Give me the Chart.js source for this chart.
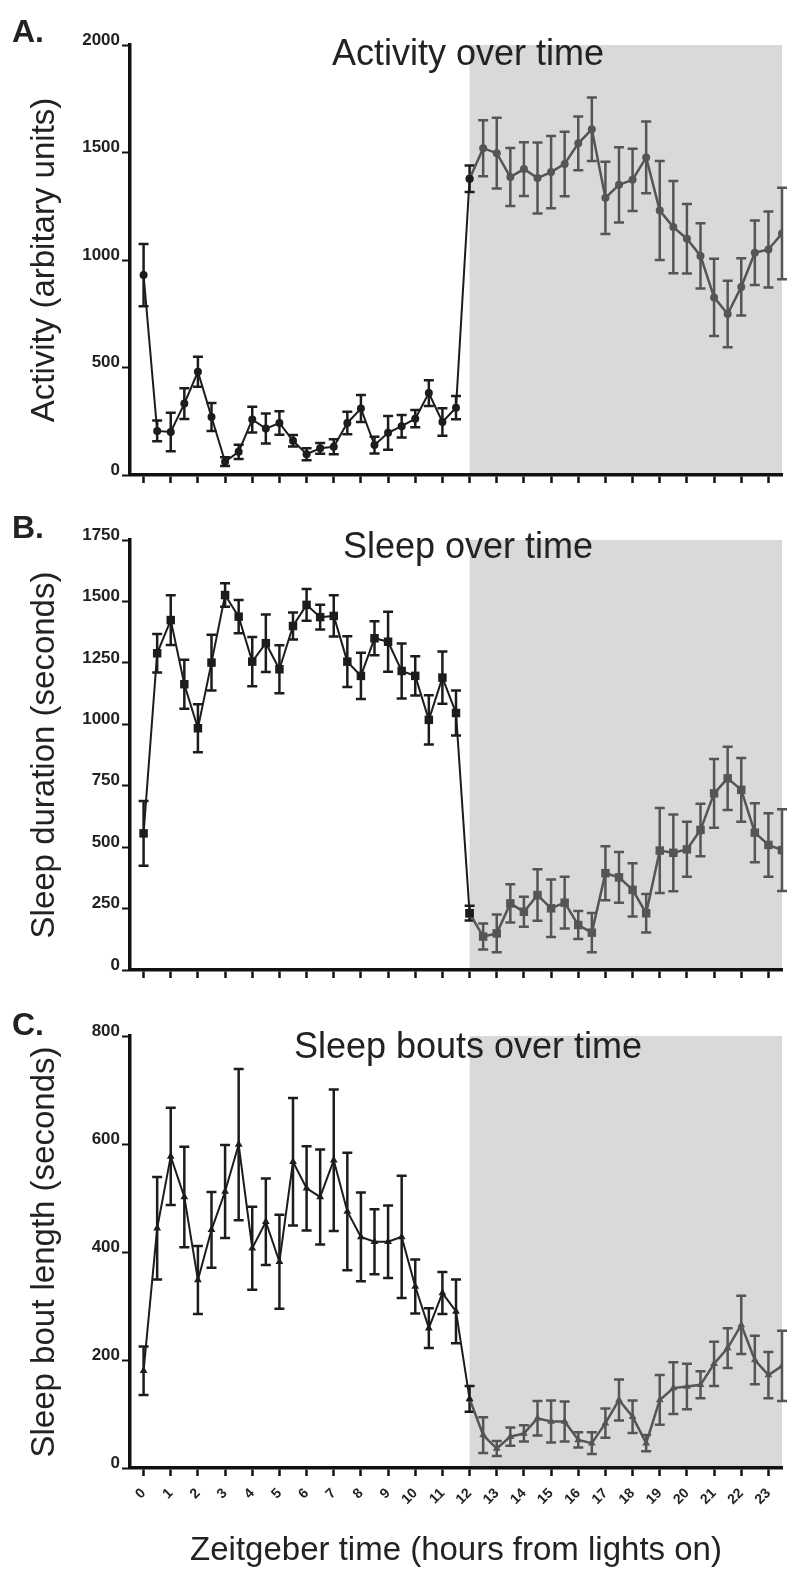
<!DOCTYPE html>
<html>
<head>
<meta charset="utf-8">
<script src="https://cdn.jsdelivr.net/npm/chart.js@4.4.1/dist/chart.umd.min.js"></script>
<style>
  body { margin: 0; background: #fff; }
  .panel { position: absolute; left: 0; width: 800px; }
</style>
</head>
<body>
<div class="panel" style="top:0;height:500px"><canvas id="chartA"></canvas></div>
<div class="panel" style="top:500px;height:495px"><canvas id="chartB"></canvas></div>
<div class="panel" style="top:995px;height:584px"><canvas id="chartC"></canvas></div>
<script>
// zeitgeber time of each sample (hours)
const hours = [0, 0.5, 1, 1.5, 2, 2.5, 3, 3.5, 4, 4.5, 5, 5.5, 6, 6.5, 7, 7.5, 8, 8.5, 9, 9.5, 10, 10.5, 11, 11.5,
               12, 12.5, 13, 13.5, 14, 14.5, 15, 15.5, 16, 16.5, 17, 17.5, 18, 18.5, 19, 19.5, 20, 20.5, 21, 21.5, 22, 22.5, 23, 23.5];
const hourTicks = [0, 1, 2, 3, 4, 5, 6, 7, 8, 9, 10, 11, 12, 13, 14, 15, 16, 17, 18, 19, 20, 21, 22, 23];
const lightsOff = 12;

const activity = [930, 205, 200, 332, 480, 270, 62, 108, 258, 216, 242, 159, 97, 124, 131, 242, 309, 139, 196, 227, 262, 381, 247, 313,
                  1378, 1520, 1497, 1386, 1423, 1381, 1409, 1447, 1543, 1608, 1289, 1350, 1373, 1477, 1230, 1153, 1099, 1019, 826, 749, 875, 1034, 1049, 1123];
const activityErr = [145, 48, 90, 72, 70, 65, 20, 33, 60, 70, 55, 27, 28, 25, 35, 52, 63, 39, 79, 52, 40, 60, 64, 54,
                     62, 130, 165, 135, 125, 165, 168, 150, 125, 148, 168, 175, 145, 167, 230, 215, 162, 152, 180, 155, 133, 150, 177, 213];

const sleep = [556, 1289, 1424, 1163, 984, 1251, 1526, 1438, 1255, 1330, 1224, 1400, 1486, 1436, 1441, 1255, 1197, 1350, 1336, 1217, 1197, 1018, 1190, 1046,
               231, 136, 149, 271, 237, 305, 251, 274, 183, 152, 394, 377, 326, 231, 486, 477, 491, 570, 719, 780, 733, 559, 509, 488];
const sleepErr = [132, 78, 101, 100, 98, 113, 48, 68, 100, 117, 98, 55, 65, 50, 84, 103, 94, 69, 122, 112, 80, 100, 106, 92,
                  30, 53, 77, 78, 61, 105, 117, 105, 57, 80, 110, 103, 108, 78, 173, 156, 112, 107, 140, 129, 130, 120, 129, 166];

const bouts = [180, 444, 577, 502, 348, 441, 512, 599, 407, 456, 382, 567, 518, 502, 570, 475, 428, 419, 419, 428, 336, 259, 324, 290,
               128, 61, 36, 58, 64, 92, 86, 86, 52, 46, 83, 126, 95, 46, 126, 148, 151, 154, 193, 222, 265, 200, 172, 189];
const boutsErr = [45, 95, 90, 93, 63, 70, 86, 140, 77, 80, 87, 118, 78, 88, 131, 109, 82, 60, 67, 113, 50, 37, 39, 59,
                  24, 33, 14, 17, 15, 32, 39, 37, 14, 20, 27, 38, 30, 15, 46, 48, 42, 25, 41, 37, 54, 45, 43, 65];

const DAY = '#1c1c1c';
const NIGHT = '#555555';
const FONT = "'Liberation Sans', Arial, sans-serif";

// data + error bars per canvas
const panelData = {
    chartA: { vals: activity, errs: activityErr },
    chartB: { vals: sleep, errs: sleepErr },
    chartC: { vals: bouts, errs: boutsErr }
};

const panelPlugin = {
    id: 'panelPlugin',
    beforeDraw(chart) {
        const { ctx, chartArea, scales } = chart;
        const x0 = scales.x.getPixelForValue(lightsOff);
        ctx.save();
        ctx.fillStyle = '#d9d9d9';
        ctx.fillRect(x0, chartArea.top, chartArea.right - x0, chartArea.bottom - chartArea.top - 1);
        ctx.restore();
    },
    beforeDatasetsDraw(chart) {
        const { ctx, scales } = chart;
        const d = panelData[chart.canvas.id];
        ctx.save();
        ctx.lineWidth = 2.5;
        hours.forEach((h, i) => {
            const x = scales.x.getPixelForValue(h);
            const yt = scales.y.getPixelForValue(d.vals[i] + d.errs[i]);
            const yb = scales.y.getPixelForValue(Math.max(d.vals[i] - d.errs[i], 0));
            ctx.strokeStyle = i <= 24 ? DAY : NIGHT;
            ctx.beginPath();
            ctx.moveTo(x, yt); ctx.lineTo(x, yb);
            ctx.moveTo(x - 5, yt); ctx.lineTo(x + 5, yt);
            ctx.moveTo(x - 5, yb); ctx.lineTo(x + 5, yb);
            ctx.stroke();
        });
        ctx.restore();
    },
    afterDraw(chart, args, opts) {
        const ctx = chart.ctx;
        ctx.save();
        ctx.textBaseline = 'alphabetic';
        ctx.fillStyle = '#222';
        ctx.font = 'bold 32px ' + FONT;
        ctx.textAlign = 'left';
        ctx.fillText(opts.letter, 12, opts.letterY);
        ctx.font = '36px ' + FONT;
        ctx.textAlign = 'center';
        ctx.fillText(opts.title, 468, opts.titleY);
        ctx.restore();
    }
};

function makeChart(id, vals, pointStyle, radius, yMax, yStep, yTitle, opts) {
    const pts = hours.map((h, i) => ({ x: h, y: vals[i] }));
    const showX = !!opts.xTitle;
    return new Chart(document.getElementById(id), {
        type: 'line',
        data: {
            datasets: [
                { data: pts.slice(0, 25), borderColor: DAY, backgroundColor: DAY, borderWidth: 2,
                  pointStyle: pointStyle, pointRadius: radius, pointBorderWidth: 0, tension: 0 },
                { data: pts.slice(24), borderColor: NIGHT, backgroundColor: NIGHT, borderWidth: 2.5,
                  pointStyle: pointStyle, pointRadius: radius, pointBorderWidth: 0, tension: 0 }
            ]
        },
        options: {
            responsive: true, maintainAspectRatio: false, animation: false,
            events: [],
            layout: { padding: { top: opts.padTop, right: 18, left: 0, bottom: 0 } },
            plugins: {
                legend: { display: false }, tooltip: { enabled: false },
                panelPlugin: { letter: opts.letter, letterY: opts.letterY, title: opts.title, titleY: opts.titleY }
            },
            scales: {
                x: {
                    type: 'linear', min: -0.5, max: 23.5,
                    afterBuildTicks: (axis) => { axis.ticks = hourTicks.map(v => ({ value: v })); },
                    afterFit: (scale) => { scale.height = opts.xHeight; },
                    border: { display: true, color: '#111', width: 3.5 },
                    grid: { drawOnChartArea: false, drawTicks: true, tickLength: 8, tickWidth: 2.5, tickColor: '#111' },
                    ticks: { display: showX, autoSkip: false, minRotation: 45, maxRotation: 45, padding: 9,
                             color: '#222', font: { family: FONT, size: 14, weight: 'bold' } },
                    title: { display: showX, text: opts.xTitle || '', color: '#222',
                             font: { family: FONT, size: 33 }, padding: { top: 0, bottom: 8 } }
                },
                y: {
                    min: 0, max: yMax,
                    afterBuildTicks: (axis) => { axis.ticks = axis.ticks.filter(t => t.value % yStep === 0); },
                    afterFit: (scale) => { scale.width = 130; },
                    border: { display: true, color: '#111', width: 3.5 },
                    grid: { drawOnChartArea: false, tickLength: 8, tickWidth: 2, tickColor: '#111' },
                    ticks: { stepSize: yStep, padding: 2, labelOffset: -5, color: '#222',
                             callback: (v) => String(v),
                             font: { family: FONT, size: 17, weight: 'bold' } },
                    title: { display: true, text: yTitle, color: '#222',
                             font: { family: FONT, size: 33 }, padding: { top: 25, bottom: 0 } }
                }
            }
        },
        plugins: [panelPlugin]
    });
}

makeChart('chartA', activity, 'circle', 4, 2000, 500, 'Activity (arbitary units)',
    { padTop: 45, xHeight: 25, letter: 'A.', letterY: 42, title: 'Activity over time', titleY: 65 });
makeChart('chartB', sleep, 'rect', 6, 1750, 250, 'Sleep duration (seconds)',
    { padTop: 40, xHeight: 25, letter: 'B.', letterY: 38, title: 'Sleep over time', titleY: 58 });
makeChart('chartC', bouts, 'triangle', 4.5, 800, 200, 'Sleep bout length (seconds)',
    { padTop: 41, xHeight: 111, letter: 'C.', letterY: 40, title: 'Sleep bouts over time', titleY: 63,
      xTitle: 'Zeitgeber time (hours from lights on)' });
</script>
</body>
</html>
